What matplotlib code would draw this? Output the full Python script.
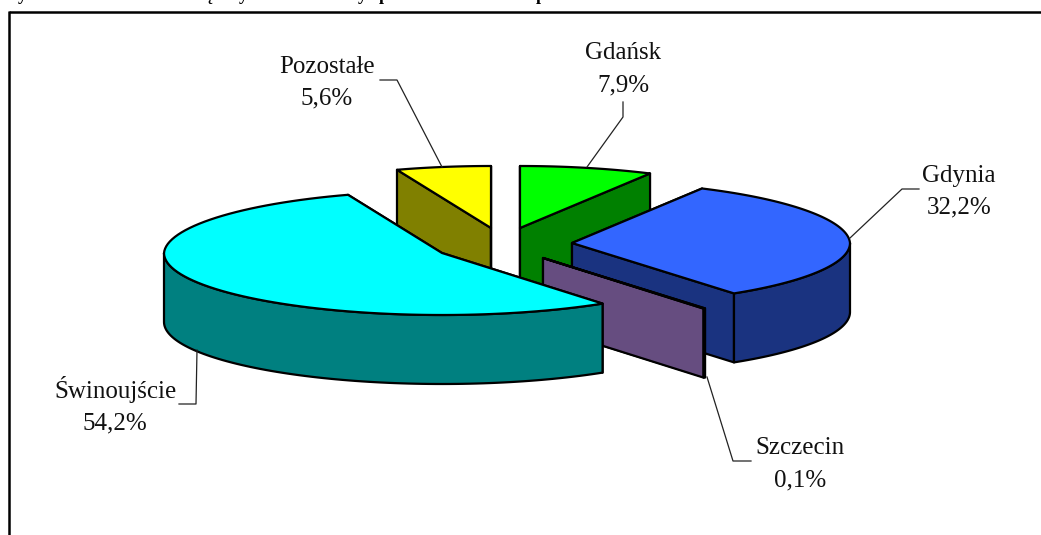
import numpy as np
import matplotlib
matplotlib.use("Agg")
import matplotlib.pyplot as plt
from matplotlib.patches import Polygon

plt.rcParams['font.family'] = ['Liberation Serif', 'DejaVu Serif']

# clockwise from 12 o'clock
names = ['Gdańsk', 'Gdynia', 'Szczecin', 'Świnoujście', 'Pozostałe']
values = [7.9, 32.2, 0.1, 54.2, 5.6]
value_labels = ['7,9%', '32,2%', '0,1%', '54,2%', '5,6%']

top_colors = ['#00FF00', '#3366FF', '#8A73A8', '#00FFFF', '#FFFF00']
side_colors = ['#008000', '#1A3380', '#664D80', '#008080', '#808000']

# pixel layout of the exploded pie
apex = [(520, 228), (572, 243), (543, 258), (442, 253), (491, 228)]
draw_order = [4, 0, 1, 2, 3]
rx, ry, depth = 278, 62, 69

label_centre = [623, 959, 800, 115, 327]
label_base = [(59, 91), (182, 213), (454, 486), (398, 429), (73, 104)]
leaders = [
    [(623, 102), (623, 117), (587, 167)],
    [(919, 189), (902, 189), (850, 238)],
    [(751, 461), (733, 461), (707, 377)],
    [(179, 404), (196, 404), (197, 350)],
    [(380, 80), (397, 80), (442, 167)],
]

# only the descenders of the title survive the crop at the top of the image
title_bits = [('y', 22), ('ę', 208), ('y', 243), ('y', 362), ('p', 384), ('p', 541)]

fig = plt.figure(figsize=(10.41, 5.35), dpi=100)
ax = fig.add_axes([0, 0, 1, 1])
ax.set_xlim(0, 1041)
ax.set_ylim(535, 0)
ax.axis('off')


def rim(cx, cy, a, b):
    t = np.radians(np.linspace(a, b, 90))
    # the far side of the pie is a little narrower
    squeeze = 1 - 0.02 * np.clip(np.sin(t), 0, 1)
    return np.column_stack([cx + rx * np.cos(t) * squeeze, cy - ry * np.sin(t)])


def add_poly(pts, color, z, lw=1.6):
    ax.add_patch(Polygon(pts, closed=True, facecolor=color, edgecolor='black',
                         linewidth=lw, joinstyle='round', zorder=z))


down = np.array([0, depth])
edges = 90 - np.concatenate([[0], np.cumsum(values)]) * 3.6

for n, i in enumerate(draw_order):
    cx, cy = apex[i]
    a, b = edges[i], edges[i + 1]
    z = 2 + n
    centre = np.array([cx, cy], dtype=float)

    # cut faces
    for ang in (a, b):
        p = rim(cx, cy, ang, ang)[0]
        add_poly([centre, p, p + down, centre + down], side_colors[i], z)

    # outer wall, only the half that faces the viewer
    lo, hi = max(b, -180), min(a, 0)
    if hi > lo:
        arc = rim(cx, cy, hi, lo)
        add_poly(np.vstack([arc, (arc + down)[::-1]]), side_colors[i], z)

    add_poly(np.vstack([centre, rim(cx, cy, a, b)]), top_colors[i], z)

for i in range(len(names)):
    ax.plot(*zip(*leaders[i]), color='#222222', lw=0.9, zorder=10)
    ax.text(label_centre[i], label_base[i][0], names[i], fontsize=18,
            ha='center', va='baseline', color='#111111', zorder=11)
    ax.text(label_centre[i], label_base[i][1], value_labels[i], fontsize=18,
            ha='center', va='baseline', color='#111111', zorder=11)

for ch, x in title_bits:
    ax.text(x, -0.5, ch, fontsize=13, fontweight='bold', ha='center',
            va='baseline', color='black', clip_on=True)

# frame, cut off by the image on the right and at the bottom
ax.plot([9, 1041], [12, 12], color='black', lw=1.8, solid_capstyle='butt', zorder=1)
ax.plot([9, 9], [11, 535], color='black', lw=1.8, solid_capstyle='butt', zorder=1)

fig.savefig('out.png', dpi=100)
